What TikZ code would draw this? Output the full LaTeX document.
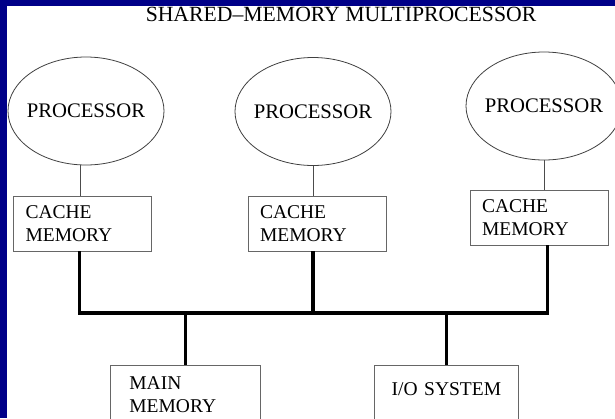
\documentclass[tikz,border=0pt]{standalone}
\usepackage{fontspec}
\setmainfont{Liberation Serif}
\usetikzlibrary{shapes.geometric}
\definecolor{slidenavy}{RGB}{0,0,136}

\begin{document}
\begin{tikzpicture}[x=1pt,y=-1pt,
  proc/.style={ellipse,draw=black!75,line width=0.8pt,inner sep=0pt,
    minimum width=156pt,minimum height=108pt,font=\fontsize{20.7}{22}\selectfont},
  unit/.style={draw=black!60,line width=0.8pt,align=left,
    font=\fontsize{19.5}{23.5}\selectfont},
  cache/.style={unit,inner xsep=12pt,inner ysep=0pt,text width=114pt,minimum height=55pt},
  link/.style={black!70,line width=0.8pt},
  bus/.style={line width=3.7pt,line join=miter}]

  % slide frame
  \path[use as bounding box,clip] (0,0) rectangle (615,418);
  \fill[slidenavy] (0,0) rectangle (615,418);
  \fill[white] (7,6) rectangle (615,418);

  \node[font=\fontsize{21.7}{24}\selectfont] (title) at (341,14.5) {SHARED\textendash MEMORY MULTIPROCESSOR};

  % zero-width labels so the ellipses keep their set size
  \node[proc] (p1) at (86,111) {\makebox[0pt]{PROCESSOR}};
  \node[proc] (p2) at (313,111.5) {\makebox[0pt]{PROCESSOR}};
  \node[proc] (p3) at (544,106) {\makebox[0pt]{PROCESSOR}};

  \node[cache] (c1) at (82.5,223.5) {CACHE\\MEMORY};
  \node[cache] (c2) at (317,223.5) {CACHE\\MEMORY};
  \node[cache] (c3) at (539,217.5) {CACHE\\MEMORY};

  \node[unit,anchor=north west,inner xsep=19pt,inner ysep=11pt,text width=112pt] (mem) at (110,365) {MAIN\\MEMORY};
  \node[unit,anchor=north west,align=center,inner xsep=12pt,inner ysep=0pt,text width=120pt,
    text height=30pt,text depth=30pt] (io) at (374,365) {I/O SYSTEM};

  \draw[link] (p1.264) -- (p1.264 |- c1.north);
  \draw[link] (p2.south) -- (p2.south |- c2.north);
  \draw[link] (p3.south) -- (p3.south |- c3.north);

  % the shared bus
  \coordinate (busL) at (79.5,313);
  \coordinate (busR) at (547.5,313);
  \draw[bus] (c1.south -| busL) -- (busL) -- (busR) -- (c3.south -| busR);
  \draw[bus] (c2.south -| p2.south) -- (busL -| p2.south);
  \draw[bus] (busL -| mem.north) -- (mem.north);
  \draw[bus] (busL -| io.north) -- (io.north);
\end{tikzpicture}
\end{document}
